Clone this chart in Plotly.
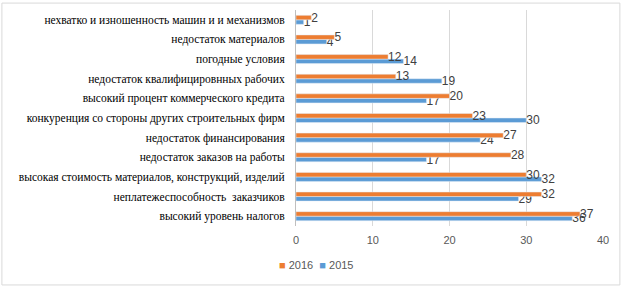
import plotly.graph_objects as go

categories = [
    "высокий уровень налогов",
    "неплатежеспособность  заказчиков",
    "высокая стоимость материалов, конструкций, изделий",
    "недостаток заказов на работы",
    "недостаток финансирования",
    "конкуренция со стороны других строительных фирм",
    "высокий процент коммерческого кредита",
    "недостаток квалифицировнных рабочих",
    "погодные условия",
    "недостаток материалов",
    "нехватко и изношенность машин и и механизмов",
]
values_2016 = [37, 32, 30, 28, 27, 23, 20, 13, 12, 5, 2]
values_2015 = [36, 29, 32, 17, 24, 30, 17, 19, 14, 4, 1]
x_ticks = [0, 10, 20, 30, 40]

ORANGE = "#ED7D31"
BLUE = "#5B9BD5"
LBL = dict(family="Liberation Sans", size=12, color="#404040")

fig = go.Figure()
fig.add_trace(go.Bar(
    y=categories, x=values_2015, orientation="h", name="2015",
    marker_color=BLUE, text=values_2015, textposition="outside",
    textfont=LBL, constraintext="none", cliponaxis=False, showlegend=False,
))
fig.add_trace(go.Bar(
    y=categories, x=values_2016, orientation="h", name="2016",
    marker_color=ORANGE, text=values_2016, textposition="outside",
    textfont=LBL, constraintext="none", cliponaxis=False, showlegend=False,
))

legend_text = (f'<span style="color:{ORANGE}">■</span> 2016  '
               f'<span style="color:{BLUE}">■</span> 2015')

fig.update_layout(
    width=624, height=290,
    margin=dict(l=296, r=21, t=10, b=64),
    paper_bgcolor="white", plot_bgcolor="white",
    barmode="group", bargap=0.54, bargroupgap=0,
    showlegend=False,
    xaxis=dict(range=[0, 40], tickvals=x_ticks, showgrid=True, gridcolor="#D9D9D9",
               zeroline=False, showline=False, ticklabelstandoff=6,
               tickfont=dict(family="Liberation Sans", size=11, color="#595959")),
    yaxis=dict(showgrid=False, showline=True, linecolor="#BFBFBF", ticks="",
               ticklabelstandoff=8, automargin=False,
               tickfont=dict(family="Liberation Serif", size=11.5, color="#000000")),
    annotations=[dict(text=legend_text, xref="paper", yref="paper",
                      x=-0.062, y=-0.18, xanchor="left", yanchor="middle",
                      showarrow=False,
                      font=dict(family="Liberation Sans", size=11, color="#595959"))],
    shapes=[dict(type="rect", xref="paper", yref="paper",
                 x0=-0.958, x1=1.055, y0=-0.273, y1=1.032,
                 line=dict(color="#D9D9D9", width=1))],
)

fig.write_html("out.html", config={"displayModeBar": False},
               post_script="document.body.style.margin='0';")
